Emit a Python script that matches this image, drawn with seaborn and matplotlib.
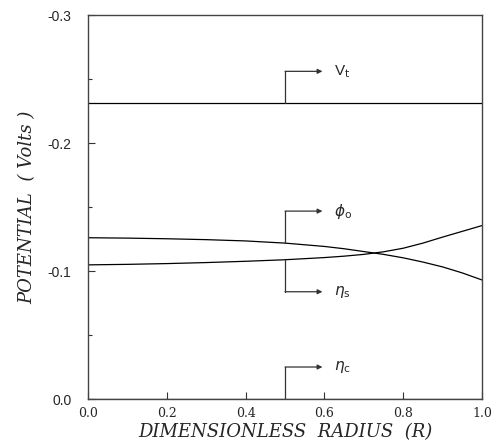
import numpy as np
import pandas as pd
import matplotlib
matplotlib.use("Agg")
import matplotlib.pyplot as plt
import seaborn as sns

# Dimensionless radius and potentials (V)
radius = [0.0, 0.1, 0.2, 0.3, 0.4, 0.5, 0.6, 0.65, 0.7, 0.75, 0.8, 0.85, 0.9, 0.95, 1.0]
v_t = [-0.231] * len(radius)
phi_o = [-0.126, -0.1257, -0.1252, -0.1245, -0.1235, -0.1218, -0.1192, -0.1174, -0.1152,
         -0.1130, -0.1103, -0.1070, -0.1032, -0.0985, -0.0930]
eta_s = [-0.1048, -0.1052, -0.1058, -0.1066, -0.1076, -0.1088, -0.1105, -0.1116, -0.1130,
         -0.1150, -0.1178, -0.1218, -0.1265, -0.1310, -0.1355]
eta_c = [0.0] * len(radius)

series = {"V_t": v_t, "phi_o": phi_o, "eta_s": eta_s, "eta_c": eta_c}
df = pd.concat(
    [pd.DataFrame({"R": radius, "potential": vals, "series": name}) for name, vals in series.items()],
    ignore_index=True,
)

sns.set_style("ticks")
plt.rcParams["font.family"] = ["Liberation Sans", "DejaVu Sans"]

fig = plt.figure(figsize=(4.96, 4.43), dpi=100)
ax = fig.add_axes([0.1774, 0.0993, 0.7944, 0.8668])

sns.lineplot(
    data=df, x="R", y="potential", units="series", estimator=None,
    color="black", linewidth=0.9, ax=ax, legend=False,
)

ax.set_xlim(0.0, 1.0)
ax.set_ylim(0.0, -0.3)
ax.set_xticks([0.0, 0.2, 0.4, 0.6, 0.8, 1.0])
ax.set_xticklabels(["0.0", "0.2", "0.4", "0.6", "0.8", "1.0"], family="DejaVu Serif", fontsize=9)
ax.set_yticks([0.0, -0.1, -0.2, -0.3])
ax.set_yticklabels(["0.0", "-0.1", "-0.2", "-0.3"], fontsize=10)
ax.set_yticks([-0.05, -0.15, -0.25], minor=True)
ax.tick_params(axis="both", which="both", direction="in", color="#333333")
ax.tick_params(axis="both", which="major", length=5, width=0.8)
ax.tick_params(axis="both", which="minor", length=3, width=0.8)
ax.tick_params(axis="y", pad=12)
ax.tick_params(axis="x", pad=6)
for s in ax.spines.values():
    s.set_color("#444444")
    s.set_linewidth(1.0)

ax.set_xlabel("DIMENSIONLESS  RADIUS  (R)", family="DejaVu Serif", style="italic", fontsize=13, labelpad=2)
ax.set_ylabel("POTENTIAL  ( Volts )", family="DejaVu Serif", style="italic", fontsize=13, labelpad=8)

# Leader arrows at R = 0.5 pointing to each curve's label
x0, x1 = 0.5, 0.595
offset = 0.025
leaders = [
    (v_t, -offset, r"V$_{\rm t}$"),
    (phi_o, -offset, r"$\phi_{\rm o}$"),
    (eta_s, offset, r"$\eta_{\rm s}$"),
    (eta_c, -offset, r"$\eta_{\rm c}$"),
]
for vals, dy, label in leaders:
    y_curve = float(np.interp(x0, radius, vals))
    y_arrow = y_curve + dy
    ax.plot([x0, x0], [y_curve, y_arrow], color="#333333", linewidth=0.9)
    ax.annotate(
        "", xy=(x1, y_arrow), xytext=(x0, y_arrow),
        arrowprops=dict(arrowstyle="-|>", color="#333333", lw=0.9, mutation_scale=7, shrinkA=0, shrinkB=0),
    )
    ax.text(0.625, y_arrow, label, fontsize=11, va="center", ha="left")

fig.savefig("out.png", dpi=100)
